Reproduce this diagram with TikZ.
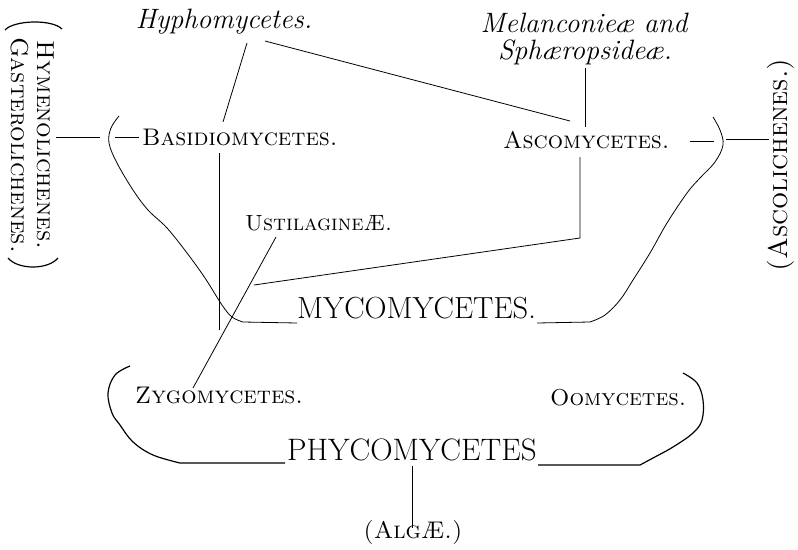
\documentclass[tikz,border=0pt]{standalone}
\begin{document}
\begin{tikzpicture}[x=1pt,y=-1pt,
  ln/.style={line width=0.8pt},
  br/.style={line width=1.2pt},
  scs/.style={font=\fontsize{24}{28}\selectfont\scshape, inner sep=0pt},
  its/.style={font=\fontsize{28}{30}\selectfont\itshape, inner sep=0pt},
  bigs/.style={font=\fontsize{30.5}{32}\selectfont, inner sep=0pt}]
\useasboundingbox[fill=white] (0,0) rectangle (798,549);
% text nodes
\node[its, anchor=base] (hyph) at (224,28) {Hyphomycetes.};
\node[its, anchor=base] (mel1) at (584,32) {Melanconie\ae{} and};
\node[its, anchor=base] (mel2) at (585,59) {Sph\ae ropside\ae.};
\node[scs, anchor=base west] (basid) at (142,145) {Basidiomycetes.};
\node[scs, anchor=base west] (asco) at (503,148) {Ascomycetes.};
\node[scs, font=\fontsize{22}{26}\selectfont\scshape, anchor=base west] (usti) at (245,230) {Ustilagine\AE.};
\node[bigs, anchor=base west] (myco) at (297,318) {MYCOMYCETES.};
\node[scs, anchor=base west] (zygo) at (135,403) {Zygomycetes.};
\node[scs, font=\fontsize{23}{26}\selectfont\scshape, anchor=base west] (oomy) at (550,405) {Oomycetes.};
\node[bigs, font=\fontsize{31}{32}\selectfont, anchor=base west] (phyco) at (287,460) {PHYCOMYCETES};
\node[scs, anchor=base] (algae) at (413,538) {(Alg\AE.)};
\node[scs, font=\fontsize{24.5}{26}\selectfont\scshape, rotate=-90, align=center] (lich) at (33,145)
  {Hymenolichenes.\\Gasterolichenes.};
\node[scs, font=\fontsize{27}{30}\selectfont\scshape, rotate=90] (asli) at (781,165) {(Ascolichenes.)};
% coordinates
\coordinate (h1) at (247,43);  \coordinate (b1) at (223,122);
\coordinate (h2) at (265,41);  \coordinate (a1) at (570,121);
\coordinate (m1) at (585,68);  \coordinate (a2) at (585,127);
\coordinate (b2) at (219,153); \coordinate (v1) at (219,330);
\coordinate (l1) at (56,137);  \coordinate (l2) at (100,137);
\coordinate (d1) at (115,137); \coordinate (d2) at (139,137);
\coordinate (a3) at (580,157); \coordinate (a4) at (580,238); \coordinate (j1) at (254,285);
\coordinate (u1) at (276,237); \coordinate (z1) at (193,388);
\coordinate (e1) at (690,141); \coordinate (e2) at (714,141);
\coordinate (r1) at (726,139); \coordinate (r2) at (769,139);
\coordinate (p1) at (412,466); \coordinate (p2) at (412,528);
% connectors
\draw[ln] (h1) -- (b1);
\draw[ln] (h2) -- (a1);
\draw[ln] (m1) -- (a2);
\draw[ln] (b2) -- (v1);
\draw[ln] (l1) -- (l2);
\draw[ln] (d1) -- (d2);
\draw[ln] (a3) -- (a4) -- (j1);
\draw[ln] (u1) -- (z1);
\draw[ln] (e1) -- (e2);
\draw[ln] (r1) -- (r2);
\draw[ln] (p1) -- (p2);
% parentheses round the lichen names
\draw[br] (5,30) .. controls (14,20) and (52,19) .. (62,29);
\draw[br] (8,258) .. controls (18,270) and (48,270) .. (58,258);
% brackets
\draw[ln] plot[smooth, tension=0.6] coordinates {(119,116) (111,128) (109,143) (117,163) (133,190) (148,210) (167,228) (187,253) (205,278) (222,305) (232,317) (243,322)} -- (297,323);
\draw[ln] plot[smooth, tension=0.6] coordinates {(713,117) (720,130) (723,145) (715,162) (700,178) (687,193) (667,223) (650,253) (633,280) (620,300) (605,315) (590,322)} -- (537,323);
\draw[br] plot[smooth, tension=0.6] coordinates {(130,366) (115,375) (108,393) (112,413) (120,425) (133,442) (153,455) (180,463)} -- (285,463);
\draw[br] plot[smooth, tension=0.6] coordinates {(683,373) (697,383) (703,400) (702,420) (693,433) (673,447) (653,458) (640,465)} -- (538,465);
\end{tikzpicture}
\end{document}
